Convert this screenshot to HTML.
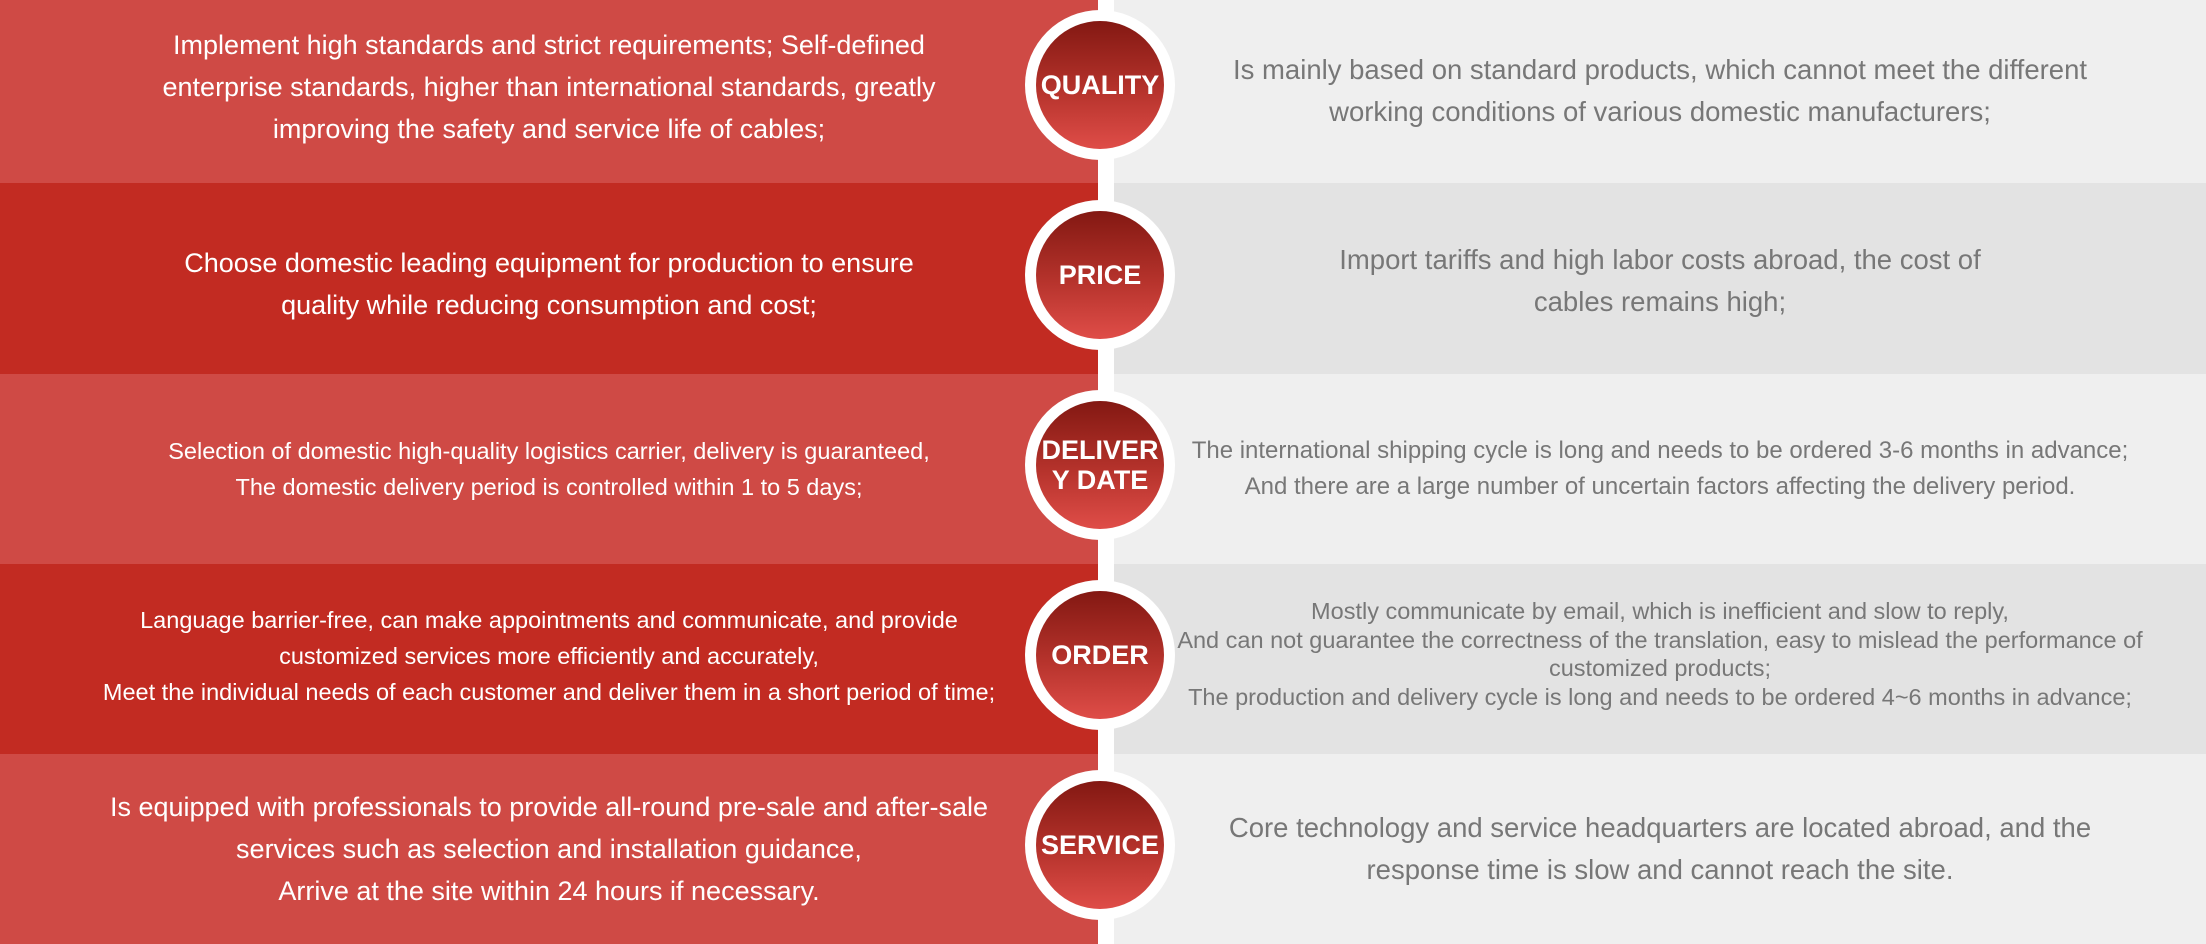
<!DOCTYPE html>
<html><head><meta charset="utf-8"><style>
*{margin:0;padding:0;box-sizing:border-box}
body{width:2206px;height:944px;overflow:hidden;font-family:"Liberation Sans",sans-serif;position:relative;background:#fff}
.row{position:absolute;left:0;width:2206px}
.l{position:absolute;left:0;top:0;bottom:0;width:1098px;display:flex;align-items:center;justify-content:center;text-align:center;color:#fff;white-space:nowrap}
.r{position:absolute;left:1114px;right:0;top:0;bottom:0;display:flex;align-items:center;justify-content:center;text-align:center;color:#777;white-space:nowrap}
.c{position:absolute;left:1025px;width:150px;height:150px;border-radius:50%;background:#fff}
.c div{position:absolute;left:11px;top:11px;width:128px;height:128px;border-radius:50%;background:linear-gradient(#831812,#b6332c 55%,#df4d48);color:#fff;font-weight:bold;font-size:27px;display:flex;align-items:center;justify-content:center;text-align:center;line-height:1.12}
</style></head><body>
<div class="row" style="top:0;height:183px"><div class="l" style="background:#cf4a45;font-size:27px;line-height:42px;padding-bottom:10px">Implement high standards and strict requirements; Self-defined<br>enterprise standards, higher than international standards, greatly<br>improving the safety and service life of cables;</div><div class="r" style="background:#efefef;font-size:27.5px;line-height:42px;padding-bottom:2px">Is mainly based on standard products, which cannot meet the different<br>working conditions of various domestic manufacturers;</div></div>
<div class="row" style="top:183px;height:191px"><div class="l" style="background:#c22b22;font-size:27px;line-height:42px;padding-top:10px">Choose domestic leading equipment for production to ensure<br>quality while reducing consumption and cost;</div><div class="r" style="background:#e3e3e3;font-size:27.5px;line-height:42px;padding-top:4px">Import tariffs and high labor costs abroad, the cost of<br>cables remains high;</div></div>
<div class="row" style="top:374px;height:190px"><div class="l" style="background:#cf4a45;font-size:23.5px;line-height:36px">Selection of domestic high-quality logistics carrier, delivery is guaranteed,<br>The domestic delivery period is controlled within 1 to 5 days;</div><div class="r" style="background:#efefef;font-size:24px;line-height:36px">The international shipping cycle is long and needs to be ordered 3-6 months in advance;<br>And there are a large number of uncertain factors affecting the delivery period.</div></div>
<div class="row" style="top:564px;height:190px"><div class="l" style="background:#c22b22;font-size:23.5px;line-height:36px;padding-bottom:6px">Language barrier-free, can make appointments and communicate, and provide<br>customized services more efficiently and accurately,<br>Meet the individual needs of each customer and deliver them in a short period of time;</div><div class="r" style="background:#e3e3e3;font-size:23.5px;line-height:28.5px;padding-bottom:10px">Mostly communicate by email, which is inefficient and slow to reply,<br>And can not guarantee the correctness of the translation, easy to mislead the performance of<br>customized products;<br>The production and delivery cycle is long and needs to be ordered 4~6 months in advance;</div></div>
<div class="row" style="top:754px;height:190px"><div class="l" style="background:#cf4a45;font-size:27px;line-height:42px">Is equipped with professionals to provide all-round pre-sale and after-sale<br>services such as selection and installation guidance,<br>Arrive at the site within 24 hours if necessary.</div><div class="r" style="background:#efefef;font-size:27.5px;line-height:42px">Core technology and service headquarters are located abroad, and the<br>response time is slow and cannot reach the site.</div></div>
<div style="position:absolute;left:1098px;top:0;width:16px;height:944px;background:#fff"></div>
<div class="c" style="top:10px"><div>QUALITY</div></div>
<div class="c" style="top:200px"><div>PRICE</div></div>
<div class="c" style="top:390px"><div>DELIVER<br>Y DATE</div></div>
<div class="c" style="top:580px"><div>ORDER</div></div>
<div class="c" style="top:770px"><div>SERVICE</div></div>
</body></html>
